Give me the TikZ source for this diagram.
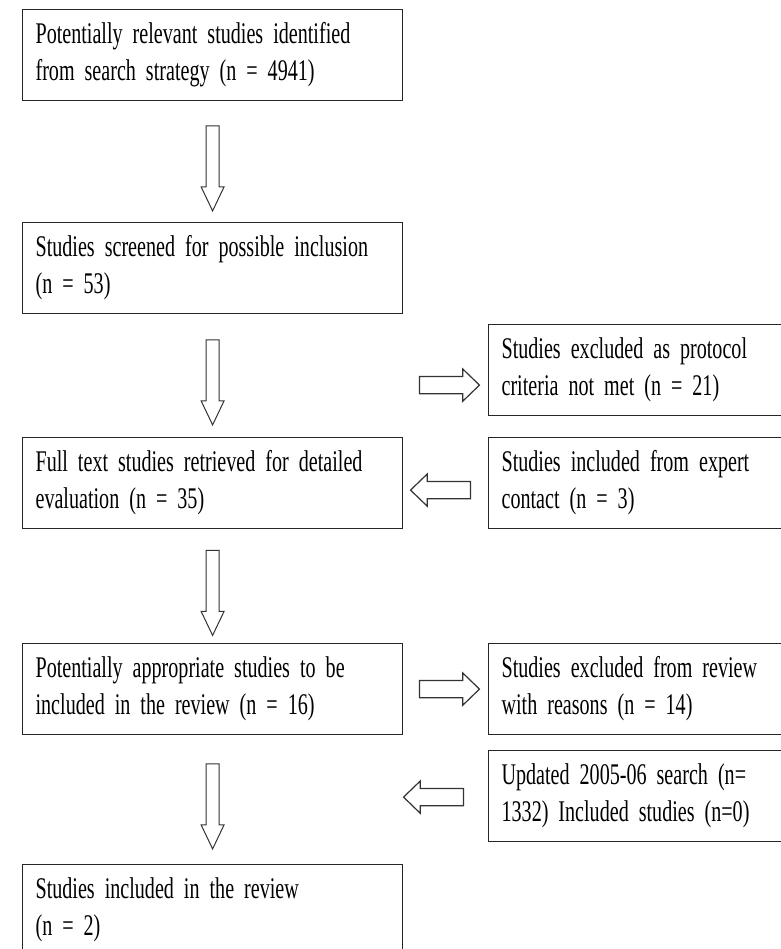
\documentclass[tikz,border=0pt]{standalone}
\usepackage{fontspec}
\setmainfont[FakeStretch=0.67]{Liberation Serif}
\usetikzlibrary{shapes.arrows, calc}
\newcommand{\boxfont}{\fontsize{30}{37}\selectfont}
\tikzstyle{box} = [draw=black!85, line width=1.2pt, anchor=north west, inner xsep=13pt, inner ysep=0pt, align=left, minimum height=91pt, font=\boxfont]
\tikzstyle{mainbox} = [box, text width=354pt]
\tikzstyle{sidebox} = [box, text width=274pt]

\begin{document}
\begin{tikzpicture}[x=1pt, y=-1pt]
        \tikzstyle{downarrow} = [single arrow, draw=black!80, line width=1pt, shape border rotate=270, minimum height=85pt, inner sep=6pt, single arrow head extend=5pt, single arrow tip angle=51]
        \tikzstyle{sidearrow} = [single arrow, draw=black!80, line width=1.2pt, minimum height=60pt, inner sep=8pt, single arrow head extend=7.5pt, single arrow tip angle=88]

        \fill[white] (0,0) rectangle (780,949);
        \useasboundingbox (0,0) rectangle (780,949);

        % main column
        \node (b1) at (22, 9) [mainbox] {Potentially relevant studies identified\\from search strategy (n = 4941)};
        \node (b2) at (22, 222) [mainbox] {Studies screened for possible inclusion\\(n = 53)};
        \node (b3) at (22, 437) [mainbox] {Full text studies retrieved for detailed\\evaluation (n = 35)};
        \node (b4) at (22, 643) [mainbox] {Potentially appropriate studies to be\\included in the review (n = 16)};
        \node (b5) at (22, 864) [mainbox] {Studies included in the review\\(n = 2)};

        % side column
        \node (r1) at (488, 324) [sidebox] {Studies excluded as protocol\\criteria not met (n = 21)};
        \node (r2) at (488, 437) [sidebox] {Studies included from expert\\contact (n = 3)};
        \node (r3) at (488, 643) [sidebox] {Studies excluded from review\\with reasons (n = 14)};
        \node (r4) at (488, 750) [sidebox] {Updated 2005-06 search (n=\\1332) Included studies (n=0)};

        % flow arrows
        \foreach \a/\b in {b1/b2, b2/b3, b3/b4, b4/b5}{
                \node (down-\a) at ($(\a.south)!0.5!(\b.north)$) [downarrow] {};
            }
        \node (out1) at ($(r1.west)+(-43,15)$) [sidearrow] {};
        \node (in1) at ($(r2.west)+(-43,7)$) [sidearrow, shape border rotate=180] {};
        \node (out2) at ($(r3.west)+(-43,0)$) [sidearrow] {};
        \node (in2) at ($(r4.west)+(-50,1)$) [sidearrow, shape border rotate=180] {};
    \end{tikzpicture}
\end{document}
